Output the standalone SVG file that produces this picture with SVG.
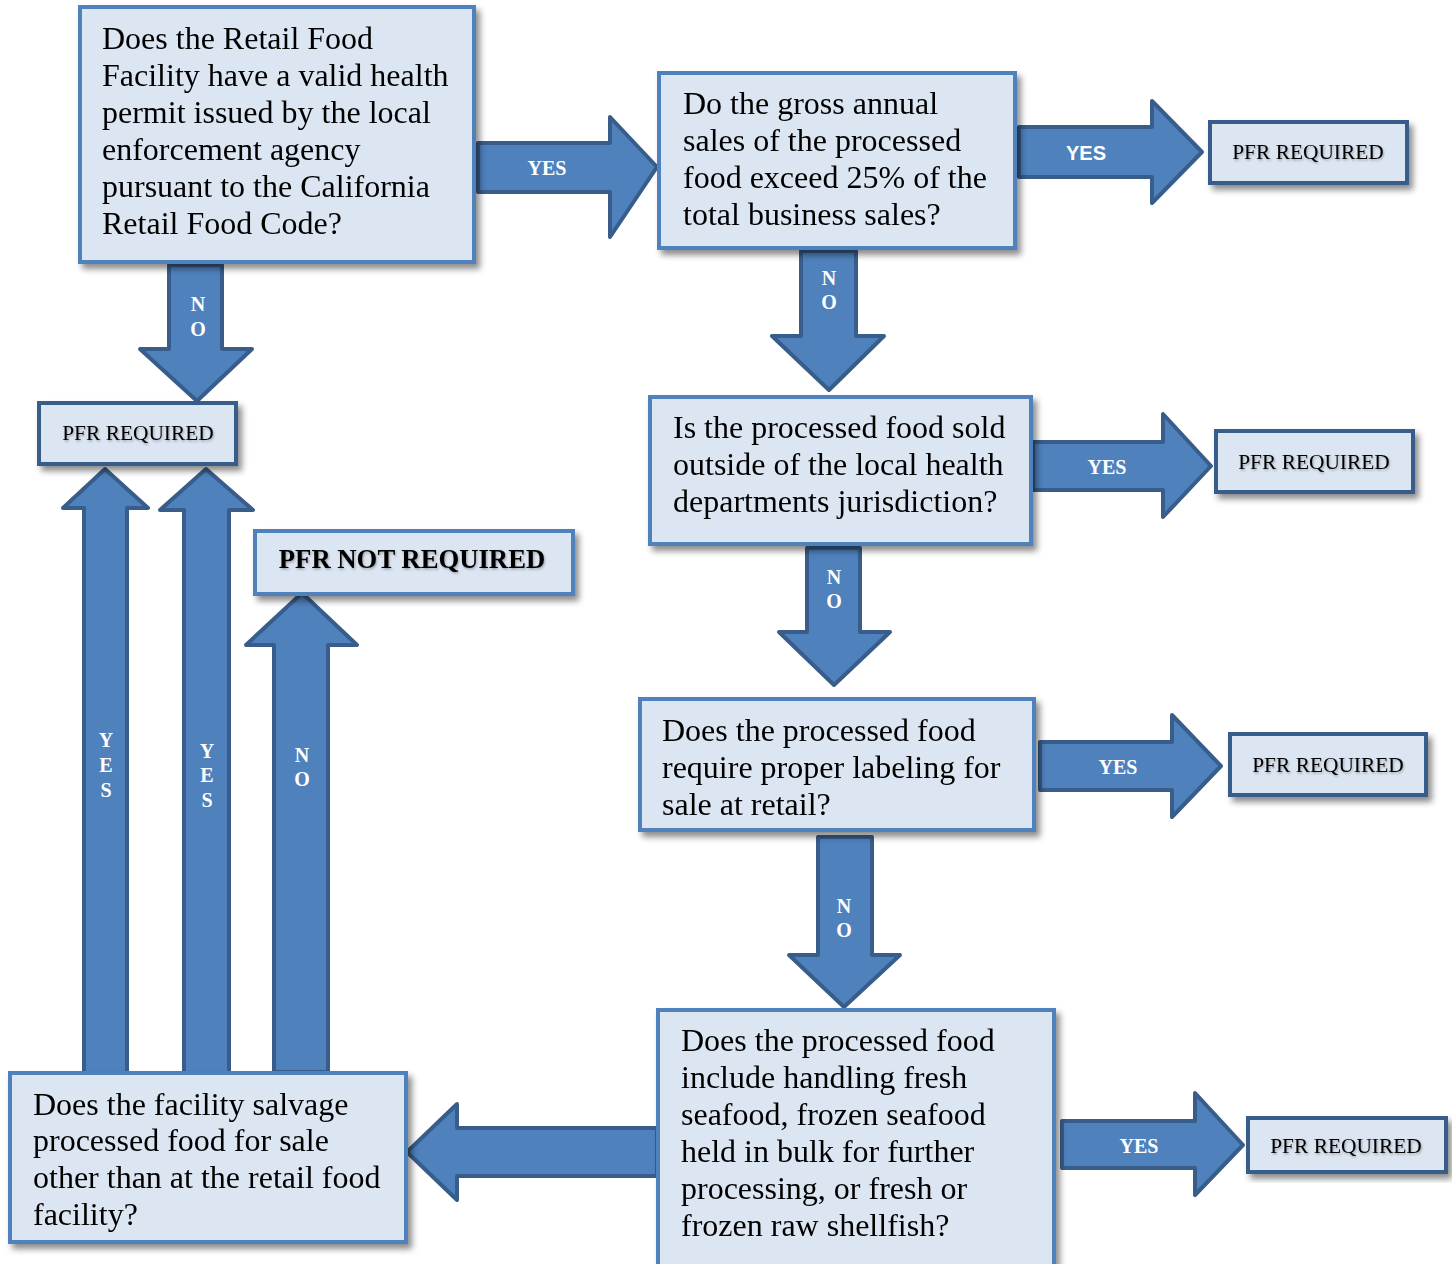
<svg xmlns="http://www.w3.org/2000/svg" width="1452" height="1264" viewBox="0 0 1452 1264">
<defs>
<filter id="sh" x="-10%" y="-10%" width="125%" height="130%">
<feDropShadow dx="4" dy="5" stdDeviation="3" flood-color="#000" flood-opacity="0.45"/>
</filter>
<filter id="tsh" x="-5%" y="-20%" width="110%" height="150%">
<feDropShadow dx="1" dy="1.5" stdDeviation="0.8" flood-color="#000" flood-opacity="0.3"/>
</filter>
<style>
.q{fill:#dce6f2;stroke:#4f81bd;stroke-width:4}
.p{fill:#dce6f2;stroke:#385d8a;stroke-width:4}
.qt{font-family:"Liberation Serif","Times New Roman",serif;font-size:32px;fill:#000}
.pt{font-family:"Liberation Serif","Times New Roman",serif;font-size:21.4px;fill:#000;text-anchor:middle}
.pnt{font-family:"Liberation Serif","Times New Roman",serif;font-size:26.7px;font-weight:bold;fill:#000;text-anchor:middle}
.ar{fill:#4f81bd;stroke:#385d8a;stroke-width:4;stroke-linejoin:round}
.lb{font-family:"Liberation Serif","Times New Roman",serif;font-size:20px;font-weight:bold;fill:#fff;text-anchor:middle}
.lbs{font-family:"Liberation Sans",Arial,sans-serif;font-size:20px;font-weight:bold;fill:#fff;text-anchor:middle}
</style>
</defs>
<rect width="1452" height="1264" fill="#fff"/>
<g id="connectors">
<polygon class="ar" points="478,143 610,143 610,117 657,167 610,237 610,192 478,192"/>
<text class="lb" x="547" y="175">YES</text>
<polygon class="ar" points="1019,127 1152,127 1152,101 1202,152 1152,203 1152,177 1019,177"/>
<text class="lbs" x="1086" y="160">YES</text>
<polygon class="ar" points="801,251 856,251 856,336 884,336 829,390 772,336 801,336"/>
<text class="lb" x="829" y="285">N</text><text class="lb" x="829" y="309">O</text>
<polygon class="ar" points="1033,442 1163,442 1163,414 1211,466 1163,517 1163,490 1033,490"/>
<text class="lb" x="1107" y="474">YES</text>
<polygon class="ar" points="807,548 860,548 860,632 890,632 834,685 779,632 807,632"/>
<text class="lb" x="834" y="584">N</text><text class="lb" x="834" y="608">O</text>
<polygon class="ar" points="1040,742 1172,742 1172,715 1221,766 1172,817 1172,790 1040,790"/>
<text class="lb" x="1118" y="774">YES</text>
<polygon class="ar" points="818,837 872,837 872,955 900,955 844,1007 789,955 818,955"/>
<text class="lb" x="844" y="913">N</text><text class="lb" x="844" y="937">O</text>
<polygon class="ar" points="1062,1121 1195,1121 1195,1093 1243,1145 1195,1195 1195,1168 1062,1168"/>
<text class="lb" x="1139" y="1153">YES</text>
<polygon class="ar" points="657,1128 457,1128 457,1104 407,1152 457,1200 457,1176 657,1176"/>
<polygon class="ar" points="169,265 222,265 222,349 252,349 197,401 140,349 169,349"/>
<text class="lb" x="198" y="311">N</text><text class="lb" x="198" y="336">O</text>
<polygon class="ar" points="84,1075 84,508 63,508 105,469 148,508 127,508 127,1075"/>
<text class="lb" x="106" y="747">Y</text><text class="lb" x="106" y="772">E</text><text class="lb" x="106" y="797">S</text>
<polygon class="ar" points="184,1075 184,510 160,510 206,469 253,510 229,510 229,1075"/>
<text class="lb" x="207" y="758">Y</text><text class="lb" x="207" y="782">E</text><text class="lb" x="207" y="807">S</text>
<polygon class="ar" points="274,1072 274,645 246,645 302,593 357,645 328,645 328,1072"/>
<text class="lb" x="302" y="762">N</text><text class="lb" x="302" y="786">O</text>
</g>
<g id="q1" filter="url(#sh)">
<rect class="q" x="80" y="7" width="394" height="255"/>
<text class="qt" x="102" y="49">Does the Retail Food</text>
<text class="qt" x="102" y="86">Facility have a valid health</text>
<text class="qt" x="102" y="123">permit issued by the local</text>
<text class="qt" x="102" y="160">enforcement agency</text>
<text class="qt" x="102" y="197">pursuant to the California</text>
<text class="qt" x="102" y="234">Retail Food Code?</text>
</g>
<g id="q2" filter="url(#sh)">
<rect class="q" x="659" y="73" width="356" height="175"/>
<text class="qt" x="683" y="114">Do the gross annual</text>
<text class="qt" x="683" y="151">sales of the processed</text>
<text class="qt" x="683" y="188">food exceed 25% of the</text>
<text class="qt" x="683" y="225">total business sales?</text>
</g>
<g id="pfrA">
<rect class="p" x="1210" y="122" width="197" height="61" filter="url(#sh)"/>
<text class="pt" x="1308" y="159" filter="url(#tsh)">PFR REQUIRED</text>
</g>
<g id="q3" filter="url(#sh)">
<rect class="q" x="650" y="397" width="381" height="147"/>
<text class="qt" x="673" y="438">Is the processed food sold</text>
<text class="qt" x="673" y="475">outside of the local health</text>
<text class="qt" x="673" y="512">departments jurisdiction?</text>
</g>
<g id="pfrB">
<rect class="p" x="1216" y="431" width="197" height="61" filter="url(#sh)"/>
<text class="pt" x="1314" y="469" filter="url(#tsh)">PFR REQUIRED</text>
</g>
<g id="q4" filter="url(#sh)">
<rect class="q" x="640" y="699" width="394" height="131"/>
<text class="qt" x="662" y="741">Does the processed food</text>
<text class="qt" x="662" y="778">require proper labeling for</text>
<text class="qt" x="662" y="815">sale at retail?</text>
</g>
<g id="pfrC">
<rect class="p" x="1230" y="734" width="196" height="61" filter="url(#sh)"/>
<text class="pt" x="1328" y="772" filter="url(#tsh)">PFR REQUIRED</text>
</g>
<g id="q5" filter="url(#sh)">
<rect class="q" x="658" y="1010" width="396" height="256"/>
<text class="qt" x="681" y="1051">Does the processed food</text>
<text class="qt" x="681" y="1088">include handling fresh</text>
<text class="qt" x="681" y="1125">seafood, frozen seafood</text>
<text class="qt" x="681" y="1162">held in bulk for further</text>
<text class="qt" x="681" y="1199">processing, or fresh or</text>
<text class="qt" x="681" y="1236">frozen raw shellfish?</text>
</g>
<g id="pfrD">
<rect class="p" x="1248" y="1118" width="198" height="54" filter="url(#sh)"/>
<text class="pt" x="1346" y="1153" filter="url(#tsh)">PFR REQUIRED</text>
</g>
<g id="pfrE">
<rect class="p" x="39" y="403" width="197" height="61" filter="url(#sh)"/>
<text class="pt" x="138" y="440" filter="url(#tsh)">PFR REQUIRED</text>
</g>
<g id="pfrNot">
<rect class="q" x="255" y="531" width="318" height="63" filter="url(#sh)"/>
<text class="pnt" x="412" y="568" filter="url(#tsh)">PFR NOT REQUIRED</text>
</g>
<g id="q6" filter="url(#sh)">
<rect class="q" x="10" y="1073" width="396" height="169"/>
<text class="qt" x="33" y="1115">Does the facility salvage</text>
<text class="qt" x="33" y="1151">processed food for sale</text>
<text class="qt" x="33" y="1188">other than at the retail food</text>
<text class="qt" x="33" y="1225">facility?</text>
</g>
</svg>
